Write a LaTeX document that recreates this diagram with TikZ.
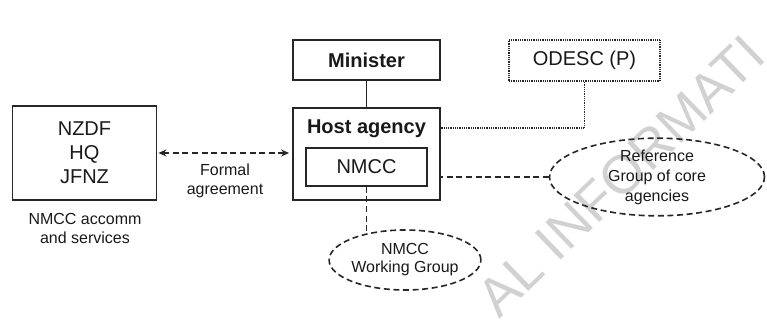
\documentclass[tikz,border=0pt]{standalone}
\usepackage{fontspec}
\setmainfont{Liberation Sans}
\usetikzlibrary{shapes,arrows.meta,positioning,calc}

\tikzset{
  box/.style={draw=black!85,line width=0.9pt,inner sep=0pt,text=black!90},
  dotbox/.style={box,line width=0.8pt,dash pattern=on 0.45pt off 0.45pt},
  oval/.style={ellipse,draw=black!85,line width=0.8pt,dash pattern=on 3pt off 1.8pt,
    inner sep=0pt,align=center,text=black!90,font=\fontsize{8}{10}\selectfont},
  note/.style={align=center,text=black!90,font=\fontsize{8}{9.5}\selectfont},
  link/.style={draw=black!85,line width=0.8pt,dash pattern=on 3pt off 1.8pt},
  dotlink/.style={draw=black!85,line width=0.8pt,dash pattern=on 0.45pt off 0.45pt}
}

\begin{document}
\begin{tikzpicture}[x=0.5pt,y=-0.5pt]
        \useasboundingbox (0,0) rectangle (767,320);
        \begin{scope}
        \clip (0,0) rectangle (767,320);
        \node[rotate=44,text=black!18,font=\fontsize{27}{27}\selectfont] (stamp) at (621,176) {AL INFORMATI};
        \end{scope}

        \node[box,minimum width=72pt,minimum height=47pt,align=center,font=\fontsize{10}{12}\selectfont] (nzdf) at (84.5,153) {NZDF\\HQ\\JFNZ};
        \node[note] (services) at (85,228) {NMCC accomm\\and services};

        \node[box,minimum width=73.5pt,minimum height=20pt,font=\bfseries] (minister) at (366.5,60) {Minister};
        \node[box,minimum width=73.5pt,minimum height=46pt] (host) at (366.5,154) {};
        \node[anchor=base,font=\bfseries,text=black!90] (hostname) at (366.5,134) {Host agency};
        \node[box,minimum width=60.5pt,minimum height=19pt] (nmcc) at (366.5,167) {NMCC};
        \node[dotbox,minimum width=75.5pt,minimum height=20.5pt] (odesc) at (584.5,60.5) {ODESC (P)};

        \node[note] (formal) at (225,181) {Formal\\agreement};
        \node[oval,minimum width=107.5pt,minimum height=37.5pt] (ref) at (657,177) {Reference\\Group of core\\agencies};
        \node[oval,minimum width=73pt,minimum height=30pt,font=\fontsize{8}{9}\selectfont] (wg) at (405,260) {NMCC\\Working Group};

        \draw[draw=black!85,line width=0.9pt] (minister) -- (host);
        \draw[link,{Stealth[length=4pt,width=3.5pt]}-{Stealth[length=4pt,width=3.5pt]},shorten <=0.5pt,shorten >=1.5pt] (nzdf.east) -- (nzdf.east -| host.west);
        \draw[dotlink] (odesc.south) |- ($(host.north east)!0.22!(host.south east)$);
        \draw[link] (ref.west) -- (ref.west -| host.east);
        \draw[link] (nmcc.south) -- ([yshift=-2.2pt]nmcc.south |- wg.north);
    \end{tikzpicture}
\end{document}
